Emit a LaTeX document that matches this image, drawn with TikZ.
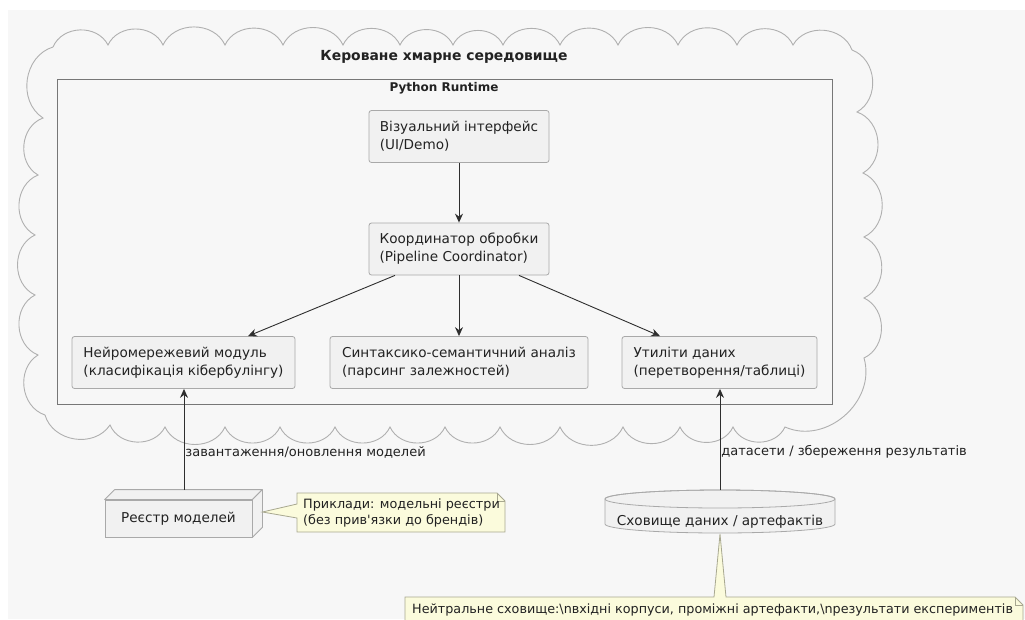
\documentclass[tikz,border=0pt]{standalone}
\usepackage{fontspec}
\setmainfont{DejaVu Sans}
\newfontfamily\plainface{DejaVu Sans}
\usetikzlibrary{arrows.meta,calc}
\definecolor{canvasgray}{HTML}{F7F7F7}
\definecolor{boxfill}{HTML}{F1F1F1}
\definecolor{boxline}{HTML}{A9A9A9}
\definecolor{cloudline}{HTML}{B0B0B0}
\definecolor{frameline}{HTML}{777777}
\definecolor{notefill}{HTML}{FBFBDC}
\definecolor{noteline}{HTML}{A8A890}
\definecolor{inkc}{HTML}{222222}
\definecolor{edgec}{HTML}{2E2E2E}

\begin{document}
\begin{tikzpicture}[x=1pt,y=-1pt,
  every node/.style={text=inkc, font=\fontsize{13.6}{18}\selectfont},
  comp/.style={draw=boxline, fill=boxfill, rounded corners=2.5pt, line width=0.8pt,
    align=left, inner xsep=0pt, inner ysep=0pt, minimum height=52pt},
  arr/.style={draw=edgec, line width=0.9pt, -{Stealth[length=9pt,width=8pt,inset=3pt]}},
  sc/.style={bend left=65, looseness=1.1},
  lbl/.style={inner sep=1pt, anchor=west, font=\fontsize{13}{15}\selectfont},
  noteshape/.style={draw=noteline, fill=notefill, line width=0.8pt, line join=miter}
]
\useasboundingbox (0,0) rectangle (1025,619);
\clip (0,0) rectangle (1025,619);
\fill[white] (0,0) rectangle (1025,619);
\fill[canvasgray] (8,10) rectangle (1025,619);

% managed cloud boundary
\draw[cloudline, line width=0.9pt]
  (53,47) to[sc] (108,45) to[sc] (163,45) to[sc] (225,45) to[sc] (283,45)
  to[sc] (343,45) to[sc] (400,45) to[sc] (453,45) to[sc] (503,45) to[sc] (560,45)
  to[sc] (618,45) to[sc] (678,45) to[sc] (737,45) to[sc] (793,45) to[sc] (852,50)
  to[sc] (857,112) to[sc] (863,173) to[sc] (864,237) to[sc] (864,298) to[sc] (864,358)
  to[sc] (785,427) to[sc] (733,427) to[sc] (680,427) to[sc] (623,427) to[sc] (560,427)
  to[sc] (500,427) to[sc] (445,427) to[sc] (390,427) to[sc] (335,427) to[sc] (280,427)
  to[sc] (225,427) to[sc] (165,427) to[sc] (110,425) to[sc] (45,415)
  to[sc] (38,355) to[sc] (35,295) to[sc] (35,235) to[sc] (38,175) to[sc] (43,118)
  to[sc] (53,47);
\node[font=\bfseries\fontsize{13.9}{16}\selectfont] (cloudtitle) at (444,57) {Кероване хмарне середовище};

% runtime frame
\draw[frameline, line width=0.9pt] (57,79) rectangle (832,404);
\node[font=\bfseries\fontsize{12}{14}\selectfont] (rttitle) at (444,88) {Python Runtime};

% components
\node[comp, minimum width=180pt] (ui) at (459,136.5) {Візуальний інтерфейс\\(UI/Demo)};
\node[comp, minimum width=180pt] (coord) at (459,249) {Координатор обробки\\(Pipeline Coordinator)};
\node[comp, minimum width=223pt] (neuro) at (183.5,362.5) {Нейромережевий модуль\\(класифікація кібербулінгу)};
\node[comp, minimum width=258pt] (syn) at (459,362.5) {Синтаксико-семантичний аналіз\\(парсинг залежностей)};
\node[comp, minimum width=195pt] (util) at (719.5,362.5) {Утиліти даних\\(перетворення/таблиці)};

\draw[arr] (ui) -- (coord);
\draw[arr] ([xshift=-64pt]coord.south) -- ([xshift=64.5pt]neuro.north);
\draw[arr] (coord) -- (syn);
\draw[arr] ([xshift=60pt]coord.south) -- ([xshift=-59.5pt]util.north);

% model registry (3D box)
\node[draw=boxline, fill=boxfill, line width=0.8pt, minimum width=147pt, minimum height=37pt, inner sep=0pt]
  (reg) at (178.5,518.5) {Реєстр моделей};
\filldraw[draw=boxline, fill=boxfill, line width=0.8pt, line join=round]
  (reg.north west) -- ++(10,-10) -- ([xshift=10pt,yshift=10pt]reg.north east) -- (reg.north east) -- cycle;
\filldraw[draw=boxline, fill=boxfill, line width=0.8pt, line join=round]
  (reg.north east) -- ++(10,-10) -- ([xshift=10pt,yshift=10pt]reg.south east) -- (reg.south east) -- cycle;
\coordinate (regtop) at ([xshift=5.5pt,yshift=10pt]reg.north);
\coordinate (regside) at ([xshift=10pt,yshift=6.5pt]reg.east);

\draw[arr] (regtop) -- node[lbl, pos=0.366] (lbl1) {завантаження/оновлення моделей} (regtop |- neuro.south);

% note beside the registry
\path[noteshape] (297,493) -- (497,493) -- (505,501) -- (505,532) -- (297,532) -- (297,518)
  -- (regside) -- (297,504) -- cycle;
\draw[noteline, line width=0.8pt] (497,493) -- (497,501) -- (505,501);
\node[anchor=west, align=left, inner sep=0pt, font=\fontsize{12.8}{16}\selectfont] (note1) at (303,512.5)
  {Приклади: модельні реєстри\\(без прив{\plainface'}язки до брендів)};

% data store (cylinder)
\filldraw[draw=boxline, fill=boxfill, line width=0.8pt]
  (605,499) -- (605,524) arc[start angle=180, end angle=360, x radius=115pt, y radius=9pt]
  -- (835,499) arc[start angle=0, end angle=180, x radius=115pt, y radius=9pt] -- cycle;
\draw[boxline, line width=0.8pt] (720,499) ellipse [x radius=115pt, y radius=9pt];
\node[inner sep=0pt] (store) at (720,522) {Сховище даних / артефактів};
\coordinate (storetop) at (720,490);
\coordinate (storebot) at (720,534);

\draw[arr] (storetop) -- node[lbl, pos=0.376] (lbl2) {датасети / збереження результатів} (storetop |- util.south);

% note below the data store
\path[noteshape] (405,597) -- (714,597) -- (storebot) -- (726,597) -- (1015,597) -- (1023,605)
  -- (1023,622) -- (405,622) -- cycle;
\draw[noteline, line width=0.8pt] (1015,597) -- (1015,605) -- (1023,605);
\node[anchor=west, inner sep=0pt, font=\fontsize{12.75}{14}\selectfont] (note2) at (412,609.5)
  {Нейтральне сховище:\textbackslash nвхідні корпуси, проміжні артефакти,\textbackslash nрезультати експериментів};
\end{tikzpicture}
\end{document}
